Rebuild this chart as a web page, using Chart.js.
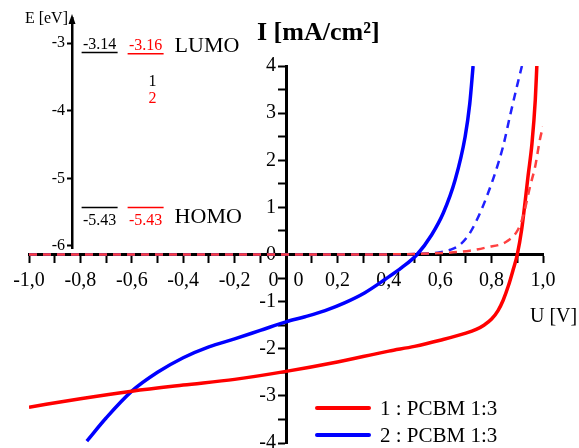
<!DOCTYPE html>
<html>
<head>
<meta charset="utf-8">
<script src="https://cdn.jsdelivr.net/npm/chart.js@4.4.1/dist/chart.umd.min.js"></script>
<style>
  body { margin: 0; background: #fff; }
  #wrap { position: relative; width: 579px; height: 448px; }
  canvas { position: absolute; left: 0; top: 0; }
</style>
</head>
<body>
<div id="wrap">
  <canvas id="ivChart" width="579" height="448"></canvas>
  <canvas id="levelChart" width="250" height="260"></canvas>
</div>
<script>
// I-V curves: U [V] / I [mA/cm2]
// 1 : PCBM 1:3, under light (solid)
let uRedLight = [-1.0, -0.8, -0.6, -0.4, -0.2, 0.0, 0.2, 0.4, 0.5, 0.6, 0.7, 0.74, 0.77, 0.8, 0.825, 0.845, 0.865, 0.884, 0.9, 0.917, 0.93, 0.942, 0.957, 0.97, 0.976];
let iRedLight = [-3.24, -3.06, -2.90, -2.77, -2.65, -2.48, -2.28, -2.05, -1.95, -1.82, -1.67, -1.59, -1.50, -1.37, -1.19, -0.97, -0.67, -0.32, 0.0, 0.53, 1.1, 1.67, 2.35, 3.28, 4.0];

// 2 : PCBM 1:3, under light (solid)
let uBlueLight = [-0.775, -0.7, -0.6, -0.5, -0.4, -0.3, -0.2, -0.1, 0.0, 0.074, 0.152, 0.23, 0.307, 0.385, 0.45, 0.51, 0.567, 0.612, 0.658, 0.697, 0.715, 0.728];
let iBlueLight = [-3.96, -3.47, -2.90, -2.50, -2.19, -1.96, -1.79, -1.61, -1.43, -1.32, -1.19, -1.02, -0.81, -0.53, -0.28, 0.0, 0.42, 0.88, 1.58, 2.5, 3.2, 4.0];

// dark curves (dashed)
let uRedDark = [-1.0, -0.5, 0.0, 0.3, 0.6, 0.716, 0.78, 0.86, 0.903, 0.923, 0.95, 0.97, 0.988, 1.0];
let iRedDark = [0, 0, 0, 0, 0.03, 0.08, 0.15, 0.28, 0.53, 0.82, 1.45, 1.88, 2.44, 2.72];
let uBlueDark = [-1.0, -0.5, 0.0, 0.3, 0.55, 0.6, 0.64, 0.68, 0.716, 0.755, 0.786, 0.815, 0.845, 0.872, 0.9, 0.918];
let iBlueDark = [0, 0, 0, 0, 0.02, 0.05, 0.1, 0.22, 0.46, 0.88, 1.3, 1.75, 2.3, 2.95, 3.6, 4.0];

let seriesNames = ['1 : PCBM 1:3', '2 : PCBM 1:3'];

// energy levels [eV]
let levelNames = ['LUMO', 'HOMO'];
let levels1 = [-3.14, -5.43];
let levels2 = [-3.16, -5.43];
let eTicks = [-6, -5, -4, -3];

const serif = '"Liberation Serif", "Times New Roman", serif';

function pts(us, is) {
    return us.map((u, k) => ({ x: u, y: is[k] }));
}

function fmtU(v) {
    let r = Math.round(v * 10);
    if (r === 0) return '0   0';
    if (r % 2 !== 0) return '';
    return (r / 10).toFixed(1).replace('.', ',');
}

// title, axis name and legend inside the plot
const ivText = {
    id: 'ivText',
    afterDraw(chart) {
        const { ctx, scales: { x, y } } = chart;
        ctx.save();
        ctx.fillStyle = '#000';
        ctx.textBaseline = 'alphabetic';
        ctx.textAlign = 'left';
        ctx.font = 'bold 26px ' + serif;
        ctx.fillText('I [mA/cm²]', x.getPixelForValue(0) - 29, 40);
        ctx.font = '20px ' + serif;
        ctx.fillText('U [V]', x.right - 13, 322);

        ctx.font = '21px ' + serif;
        ctx.textBaseline = 'middle';
        let row = 0;
        chart.data.datasets.forEach(ds => {
            if (ds.borderDash) return;
            const ly = 408 + row * 27;
            ctx.strokeStyle = ds.borderColor;
            ctx.lineWidth = 4;
            ctx.lineCap = 'round';
            ctx.beginPath();
            ctx.moveTo(317, ly);
            ctx.lineTo(369, ly);
            ctx.stroke();
            ctx.fillStyle = '#000';
            ctx.fillText(ds.label, 380, ly + 1);
            row++;
        });
        ctx.restore();
    }
};

let ivCtx = document.getElementById('ivChart').getContext('2d');

let ivChart = new Chart(ivCtx, {
    type: 'scatter',
    data: {
        datasets: [
            {
                label: seriesNames[0] + ' dark',
                data: pts(uRedDark, iRedDark),
                borderColor: '#ff4040',
                borderWidth: 2.5,
                borderDash: [8, 6]
            },
            {
                label: seriesNames[1] + ' dark',
                data: pts(uBlueDark, iBlueDark),
                borderColor: '#2020ff',
                borderWidth: 2.5,
                borderDash: [8, 6]
            },
            {
                label: seriesNames[0],
                data: pts(uRedLight, iRedLight),
                borderColor: '#ff0000',
                borderWidth: 3.5
            },
            {
                label: seriesNames[1],
                data: pts(uBlueLight, iBlueLight),
                borderColor: '#0000ff',
                borderWidth: 3.5
            }
        ]
    },
    options: {
        responsive: false,
        animation: false,
        showLine: true,
        elements: {
            point: { radius: 0, hoverRadius: 0 },
            line: { cubicInterpolationMode: 'monotone', fill: false }
        },
        layout: { padding: { left: 29, right: 36, top: 66, bottom: 2 } },
        plugins: {
            legend: { display: false },
            tooltip: { enabled: false }
        },
        scales: {
            x: {
                type: 'linear',
                position: { y: 0 },
                min: -1,
                max: 1,
                ticks: {
                    stepSize: 0.1,
                    autoSkip: false,
                    maxRotation: 0,
                    padding: 7,
                    color: '#000',
                    font: { family: serif, size: 20 },
                    callback: v => fmtU(v)
                },
                grid: { drawOnChartArea: false, tickLength: 7, tickWidth: 2, tickColor: '#000' },
                border: { color: '#000', width: 3 }
            },
            y: {
                type: 'linear',
                position: { x: 0 },
                min: -4,
                max: 4,
                ticks: {
                    stepSize: 0.5,
                    autoSkip: false,
                    color: '#000',
                    // small line height so the end labels do not shrink the plot
                    font: { family: serif, size: 20, lineHeight: 0.2 },
                    // centred axis: labels end on the axis line, so pad them
                    callback: v => Number.isInteger(v) ? String(v) + '  ' : ''
                },
                grid: { drawOnChartArea: false, tickLength: 7, tickWidth: 2, tickColor: '#000' },
                border: { color: '#000', width: 3 }
            }
        }
    },
    plugins: [ivText]
});

// energy diagram inset
const levelText = {
    id: 'levelText',
    afterDraw(chart) {
        const { ctx, chartArea, scales: { y } } = chart;
        const ax = chartArea.left;
        ctx.save();
        // arrow head on the energy axis
        ctx.fillStyle = '#000';
        ctx.beginPath();
        ctx.moveTo(ax, chartArea.top - 4);
        ctx.lineTo(ax - 3.5, chartArea.top + 6);
        ctx.lineTo(ax + 3.5, chartArea.top + 6);
        ctx.closePath();
        ctx.fill();

        ctx.font = '16px ' + serif;
        ctx.textAlign = 'right';
        ctx.fillText('E [eV]', ax - 4, 23);

        ctx.textAlign = 'center';
        chart.data.datasets.forEach((ds, i) => {
            const meta = chart.getDatasetMeta(i);
            ctx.fillStyle = ds.borderColor;
            meta.data.forEach((pt, j) => {
                const txt = ds.data[j].y.toFixed(2);
                ctx.fillText(txt, pt.x, j === 0 ? pt.y - 4 : pt.y + 18);
            });
        });

        // numbers of the materials
        const last = chart.getDatasetMeta(1).data[0];
        ctx.fillStyle = chart.data.datasets[0].borderColor;
        ctx.fillText('1', last.x + 7, 86);
        ctx.fillStyle = chart.data.datasets[1].borderColor;
        ctx.fillText('2', last.x + 7, 103);

        ctx.font = '22px ' + serif;
        ctx.fillStyle = '#000';
        ctx.textAlign = 'left';
        levelNames.forEach((n, j) => {
            const pt = chart.getDatasetMeta(1).data[j];
            ctx.fillText(n, pt.x + 29, j === 0 ? pt.y - 2 : pt.y + 16);
        });
        ctx.restore();
    }
};

let levelCtx = document.getElementById('levelChart').getContext('2d');

let levelChart = new Chart(levelCtx, {
    type: 'scatter',
    data: {
        datasets: [
            {
                label: '1',
                data: levels1.map(e => ({ x: 1, y: e })),
                borderColor: '#000000'
            },
            {
                label: '2',
                data: levels2.map(e => ({ x: 2, y: e })),
                borderColor: '#ff0000'
            }
        ]
    },
    options: {
        responsive: false,
        animation: false,
        elements: {
            point: { pointStyle: 'line', radius: 18, hoverRadius: 18, borderWidth: 1.5 }
        },
        // the wide line markers would otherwise add their own padding
        layout: { autoPadding: false, padding: { left: 12, right: 5, top: 18, bottom: 12 } },
        plugins: {
            legend: { display: false },
            tooltip: { enabled: false }
        },
        scales: {
            x: { type: 'linear', display: false, min: 0.4, max: 4.16 },
            y: {
                type: 'linear',
                min: -6.03,
                max: -2.63,
                afterBuildTicks: s => { s.ticks = eTicks.map(v => ({ value: v })); },
                afterFit: s => { s.width = 60; },
                ticks: {
                    padding: 2,
                    color: '#000',
                    font: { family: serif, size: 16, lineHeight: 0.2 },
                    callback: v => String(v)
                },
                grid: { drawOnChartArea: false, tickLength: 5, tickWidth: 2, tickColor: '#000' },
                border: { color: '#000', width: 2.5 }
            }
        }
    },
    plugins: [levelText]
});
</script>
</body>
</html>
